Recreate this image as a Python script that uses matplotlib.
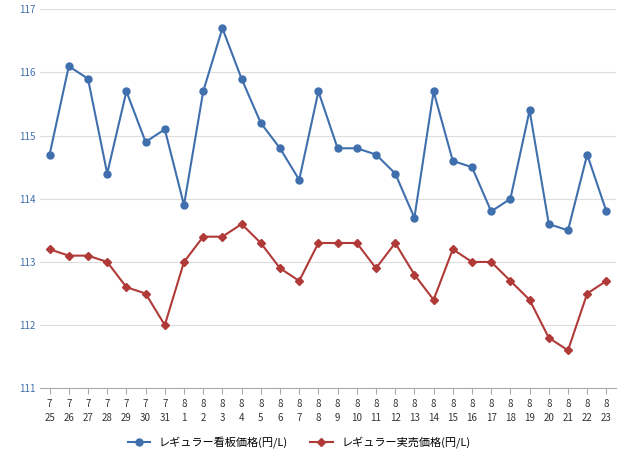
import matplotlib
matplotlib.use("Agg")
import matplotlib.pyplot as plt

months = ["7"]*7 + ["8"]*23
days = [25,26,27,28,29,30,31] + list(range(1,24))
signboard = [114.7,116.1,115.9,114.4,115.7,114.9,115.1,113.9,115.7,116.7,115.9,115.2,114.8,114.3,115.7,
             114.8,114.8,114.7,114.4,113.7,115.7,114.6,114.5,113.8,114.0,115.4,113.6,113.5,114.7,113.8]
actual = [113.2,113.1,113.1,113.0,112.6,112.5,112.0,113.0,113.4,113.4,113.6,113.3,112.9,112.7,113.3,
          113.3,113.3,112.9,113.3,112.8,112.4,113.2,113.0,113.0,112.7,112.4,111.8,111.6,112.5,112.7]
labels = [f"{m}\n{d}" for m, d in zip(months, days)]

plt.rcParams["font.family"] = ["Noto Sans CJK JP"]
fig = plt.figure(figsize=(6.4, 4.65), dpi=100)
ax = fig.add_axes([0.0625, 0.165, 0.90, 0.815])
x = list(range(len(labels)))
ax.plot(x, signboard, color="#3f6fad", marker="o", markersize=5, lw=1.5, label="レギュラー看板価格(円/L)")
ax.plot(x, actual, color="#b03a37", marker="D", markersize=4, lw=1.5, label="レギュラー実売価格(円/L)")
ax.set_ylim(111, 117)
ax.set_xlim(-0.5, len(labels)-0.5)
ax.set_yticks(range(111, 118))
ax.set_xticks(x)
ax.set_xticklabels(labels, fontsize=7, color="#333333", linespacing=1.6)
ax.tick_params(axis="y", labelsize=7, labelcolor="#3f6fad", length=0)
ax.tick_params(axis="x", length=4, color="#aaaaaa")
ax.grid(axis="y", color="#dddddd", lw=0.8)
for s in ["top", "right", "left"]:
    ax.spines[s].set_visible(False)
ax.spines["bottom"].set_color("#aaaaaa")
ax.legend(loc="upper center", bbox_to_anchor=(0.45, -0.1), ncol=2, frameon=False, fontsize=8, columnspacing=2)
fig.savefig("out.png")
